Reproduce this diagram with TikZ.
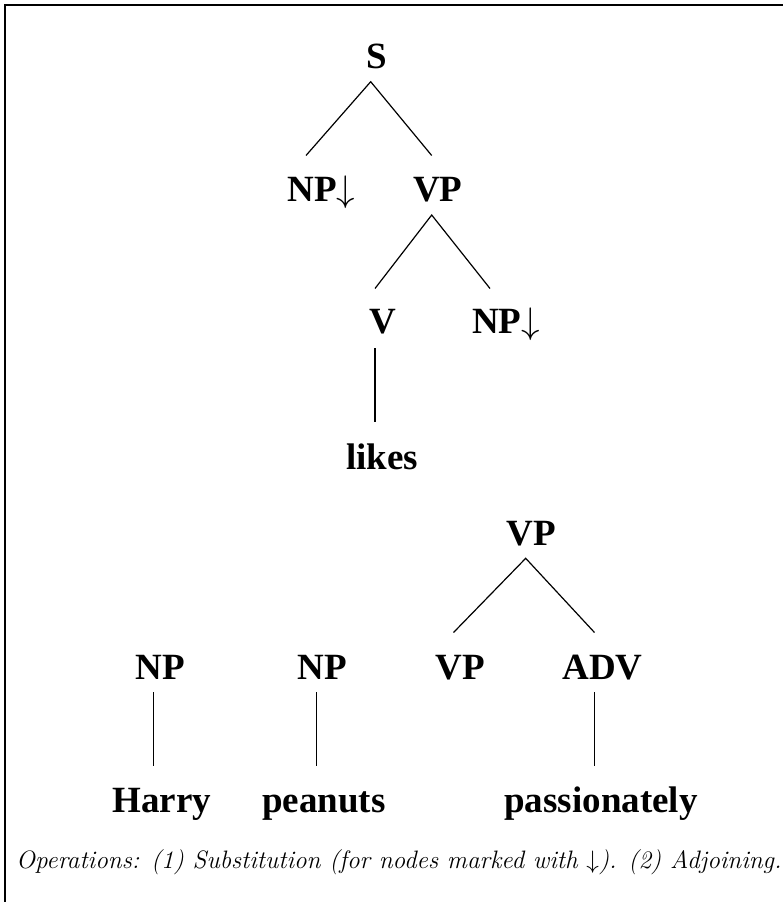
\RequirePackage{fix-cm}
\documentclass[tikz,border=0pt]{standalone}
\usepackage{fontspec}
\newfontfamily\treefont{Liberation Serif}[BoldFont={Liberation Serif Bold}]
\begin{document}
\begin{tikzpicture}[x=1pt,y=-1pt,
  lbl/.style={inner sep=0pt,anchor=base,font=\treefont\bfseries\fontsize{37}{42}\selectfont},
  word/.style={inner sep=0pt,anchor=base,font=\treefont\bfseries\fontsize{37}{42}\selectfont},
  edge/.style={line width=1.2pt},
  frame/.style={line width=1.6pt}]
\useasboundingbox (0,0) rectangle (783,902);
\draw[frame] (5,902) -- (5,5) -- (783,5);
% upper tree
\node[lbl] (S) at (377,68) {S};
\node[lbl,anchor=base west] (NPa) at (287.3,201.5) {NP$\downarrow$};
\node[lbl] (VPa) at (437.7,201.5) {VP};
\node[lbl] (V) at (383,333) {V};
\node[lbl,anchor=base west] (NPb) at (472,333) {NP$\downarrow$};
\node[word] (likes) at (382,469) {likes};
\coordinate (S-d) at (370.7,81.7);
\coordinate (NPa-u) at (306,155.5);
\coordinate (VPa-u) at (431.7,155.5);
\coordinate (VPa-d) at (431.7,215);
\coordinate (V-u) at (375,288.5);
\coordinate (NPb-u) at (490,288.5);
\coordinate (V-d) at (375,348);
\coordinate (likes-u) at (375,422);
\draw[edge] (NPa-u) -- (S-d) -- (VPa-u);
\draw[edge] (V-u) -- (VPa-d) -- (NPb-u);
\draw[edge] (V-d) -- (likes-u);
% lower trees
\node[lbl] (VPb) at (531.5,545) {VP};
\node[lbl] (NPc) at (160,679) {NP};
\node[lbl] (NPd) at (322.5,679) {NP};
\node[lbl] (VPc) at (460,679) {VP};
\node[lbl] (ADV) at (602.5,679) {ADV};
\node[word] (Harry) at (162,812) {Harry};
\node[word] (peanuts) at (324,812) {peanuts};
\node[word] (pass) at (601,812) {passionately};
\coordinate (VPb-d) at (525.7,558.3);
\coordinate (VPc-u) at (453.5,632.5);
\coordinate (ADV-u) at (594.5,632.5);
\coordinate (NPc-d) at (153.3,692);
\coordinate (Harry-u) at (153.3,766);
\coordinate (NPd-d) at (316.7,692);
\coordinate (peanuts-u) at (316.7,766);
\coordinate (ADV-d) at (594.3,692);
\coordinate (pass-u) at (594.3,766);
\draw[edge] (VPc-u) -- (VPb-d) -- (ADV-u);
\draw[edge] (NPc-d) -- (Harry-u);
\draw[edge] (NPd-d) -- (peanuts-u);
\draw[edge] (ADV-d) -- (pass-u);
% caption
\node[inner sep=0pt,anchor=base west,font=\itshape\fontsize{25.2}{30}\selectfont] (cap) at (16,868)
  {Operations: (1) Substitution (for nodes marked with $\downarrow$). (2) Adjoining.};
\end{tikzpicture}
\end{document}
